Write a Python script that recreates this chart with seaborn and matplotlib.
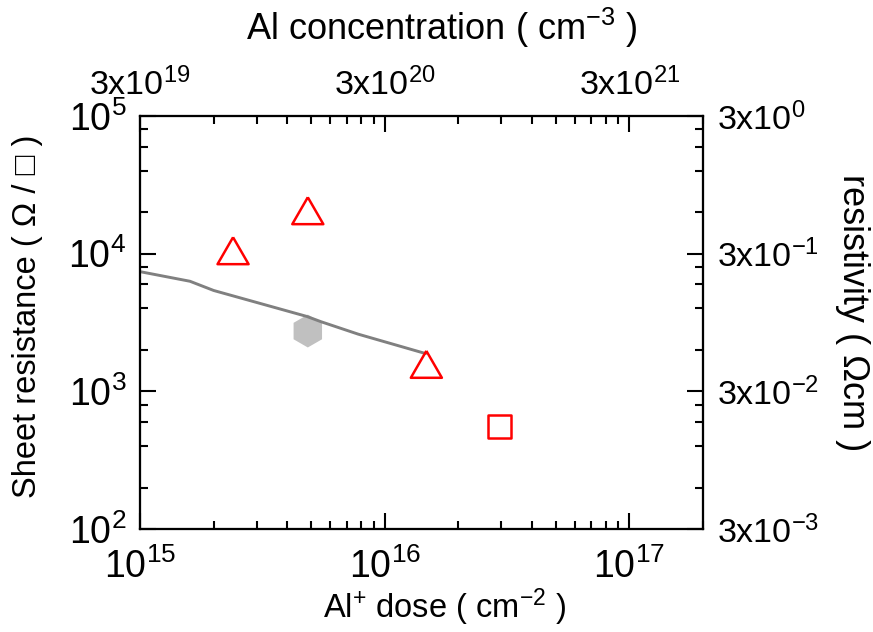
import numpy as np
import seaborn as sns
import matplotlib
matplotlib.use("Agg")
import matplotlib.pyplot as plt
from matplotlib.ticker import LogLocator, FuncFormatter, NullFormatter

# Curva cinza (referencia)
linha_dose = [1e15, 1.6e15, 2e15, 4.8e15, 5.5e15, 7.8e15, 1.47e16]
linha_rs = [7.4e3, 6.3e3, 5.4e3, 3.5e3, 3.2e3, 2.6e3, 1.88e3]

# Pontos medidos
tri_dose = [2.4e15, 4.85e15, 1.48e16]
tri_rs = [1.05e4, 2.05e4, 1.57e3]
quad_dose = [2.95e16]
quad_rs = [556]
hex_dose = [4.85e15]
hex_rs = [2.74e3]

# Fatores dos eixos secundarios
fator_conc = 3e4      # dose -> concentracao
fator_resist = 3e-5   # resistencia de folha -> resistividade

sns.set_style("ticks")
plt.rcParams['font.family'] = ['Liberation Sans', 'DejaVu Sans']
plt.rcParams['mathtext.default'] = 'regular'
plt.rcParams['text.color'] = 'black'
plt.rcParams['axes.labelcolor'] = 'black'

fig = plt.figure(figsize=(8.73, 6.32), dpi=100)
ax = fig.add_axes([0.1604, 0.163, 0.6449, 0.6535])

# Marcadores
hexagono = 'h'
triangulo = [(0, 0.433), (-0.5, -0.433), (0.5, -0.433), (0, 0.433)]

sns.scatterplot(x=hex_dose, y=hex_rs, marker=hexagono, s=560, color='#c0c0c0',
                edgecolor='none', ax=ax, zorder=2)
sns.lineplot(x=linha_dose, y=linha_rs, color='#808080', linewidth=2.1, ax=ax, zorder=3)
sns.scatterplot(x=tri_dose, y=tri_rs, marker=triangulo, s=500, facecolor='none',
                edgecolor='#ff0000', linewidth=1.8, ax=ax, zorder=4)
sns.scatterplot(x=quad_dose, y=quad_rs, marker='s', s=272, facecolor='none',
                edgecolor='#ff0000', linewidth=1.8, ax=ax, zorder=4)

ax.set_xscale('log')
ax.set_yscale('log')
ax.set_xlim(1e15, 2e17)
ax.set_ylim(1e2, 1e5)


def configurar_log(eixo, subs):
    eixo.set_major_locator(LogLocator(base=10, numticks=20))
    eixo.set_minor_locator(LogLocator(base=10, subs=subs, numticks=50))
    eixo.set_minor_formatter(NullFormatter())


configurar_log(ax.xaxis, np.arange(2, 10))
configurar_log(ax.yaxis, [2, 4, 6, 8])
ax.xaxis.set_major_formatter(FuncFormatter(
    lambda v, p: r'$\mathregular{10^{%d}}$' % round(np.log10(v))))
ax.yaxis.set_major_formatter(FuncFormatter(
    lambda v, p: r'$\mathregular{10^{%d}}$' % round(np.log10(v))))

# Eixo superior: concentracao
axt = ax.twiny()
axt.set_xscale('log')
axt.set_xlim(ax.get_xlim())
configurar_log(axt.xaxis, np.arange(2, 10))
axt.xaxis.set_major_formatter(FuncFormatter(
    lambda v, p: r'$\mathregular{3x10^{%d}}$' % round(np.log10(v * fator_conc / 3))))

# Eixo direito: resistividade
axr = ax.twinx()
axr.set_yscale('log')
axr.set_ylim(ax.get_ylim())
configurar_log(axr.yaxis, [2, 4, 6, 8])
axr.yaxis.set_major_formatter(FuncFormatter(
    lambda v, p: r'$\mathregular{3x10^{%d}}$' % round(np.log10(v * fator_resist / 3))))

for a in (ax, axt, axr):
    for s in a.spines.values():
        s.set_linewidth(1.5)
        s.set_color('black')
        s.set_visible(True)

ax.tick_params(which='both', direction='in', width=1.5, colors='black',
               top=False, right=False)
ax.tick_params(which='major', length=11.5, labelsize=27)
ax.tick_params(axis='x', which='major', pad=14)
ax.tick_params(axis='y', which='major', pad=10)
ax.tick_params(which='minor', length=5.8)
axt.tick_params(which='both', direction='in', width=1.5, colors='black')
axt.tick_params(which='major', length=11.5, labelsize=24.5, pad=10)
axt.tick_params(which='minor', length=5.8)
axr.tick_params(which='both', direction='in', width=1.5, colors='black')
axr.tick_params(which='major', length=11.5, labelsize=24.5, pad=10)
axr.tick_params(which='minor', length=5.8)

# Rotulos
ax.set_xlabel(r'Al$^{+}$ dose ( cm$^{-2}$ )', fontsize=23.5, va='center')
ax.xaxis.set_label_coords(0.54, -0.189)
ax.set_ylabel('Sheet resistance ( Ω / □ )', fontsize=23.5, va='center')
ax.yaxis.set_label_coords(-0.199, 0.516)
axt.set_xlabel(r'Al concentration ( cm$^{-3}$ )', fontsize=26, va='center')
axt.xaxis.set_label_coords(0.536, 1.213)
axr.set_ylabel('resistivity ( Ωcm )', fontsize=26, rotation=270, va='center')
axr.yaxis.set_label_coords(1.266, 0.525)

fig.savefig('out.png', dpi=100, facecolor='white')
